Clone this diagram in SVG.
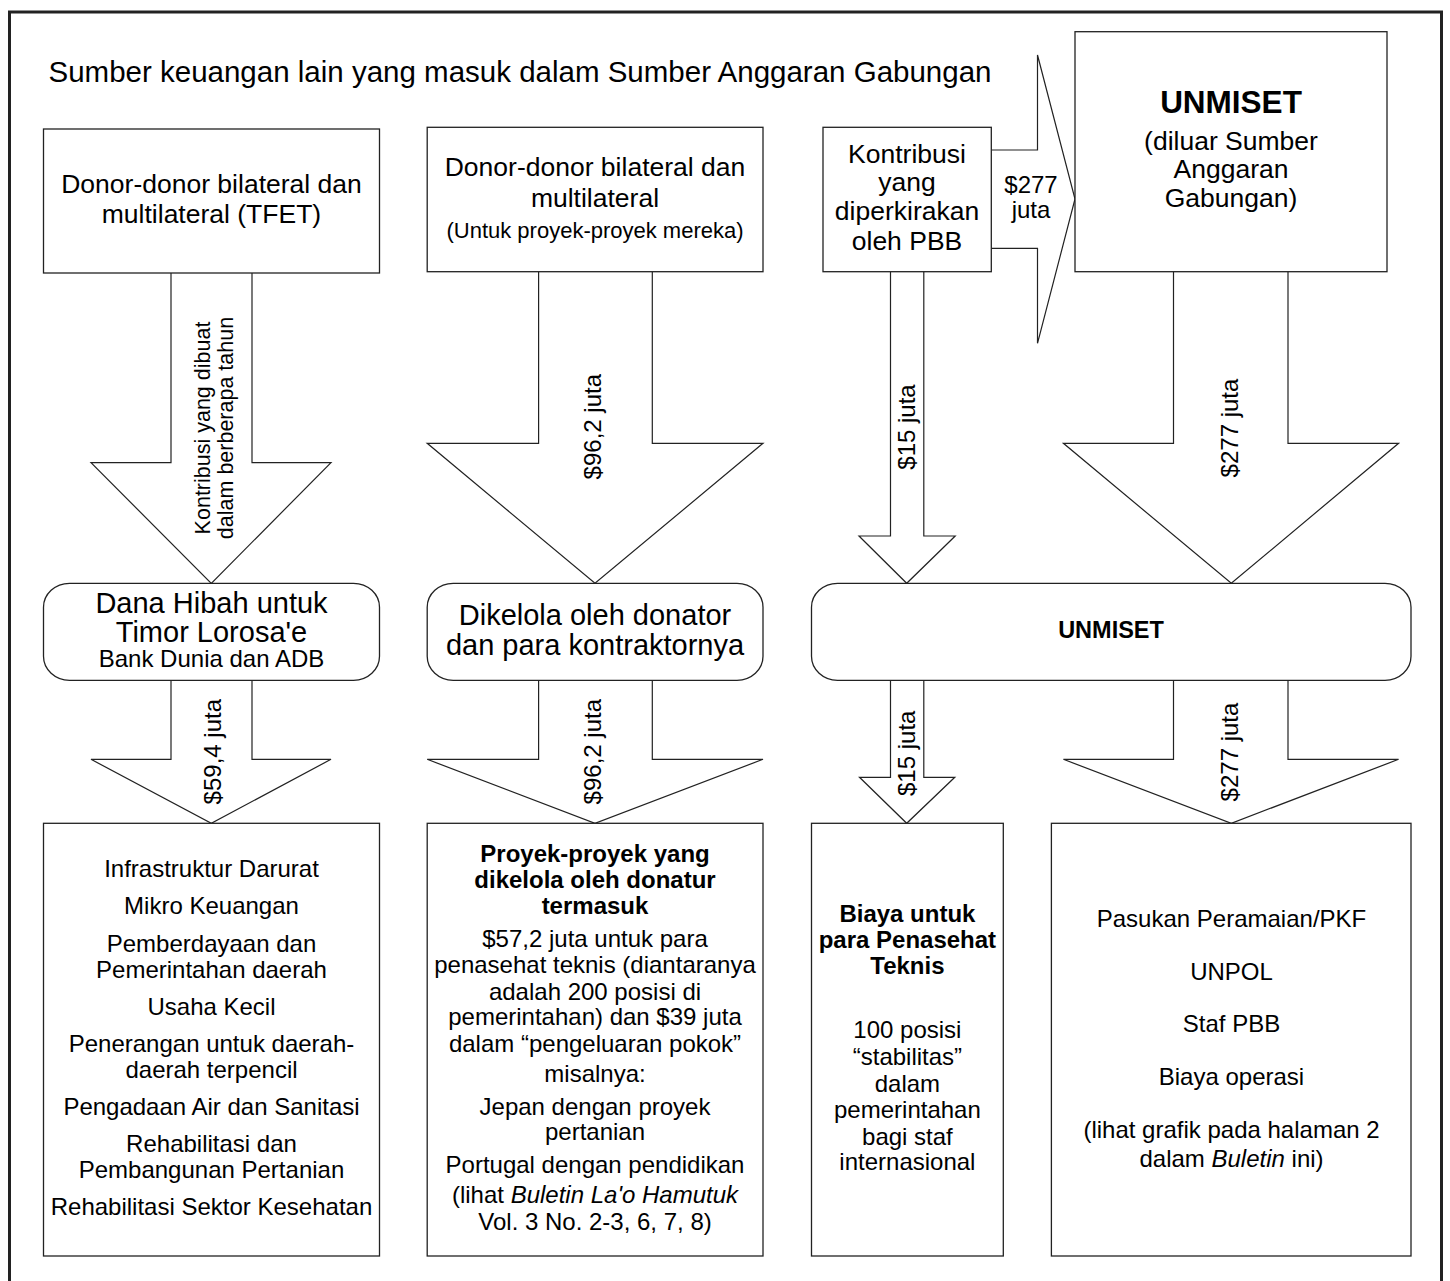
<svg xmlns="http://www.w3.org/2000/svg" width="1450" height="1281" viewBox="0 0 1450 1281">
<style>
text{font-family:"Liberation Sans",Arial,sans-serif;fill:#000}
.c{text-anchor:middle}
.box{fill:#fff;stroke:#222;stroke-width:1.3}
.arr{fill:#fff;stroke:#222;stroke-width:1.2;stroke-linejoin:miter}
.f26{font-size:26.5px}
.f29{font-size:29px}
.f24{font-size:24px}
.f22{font-size:22px}
.b{font-weight:bold}
.i{font-style:italic}
</style>
<rect x="0" y="0" width="1450" height="1281" fill="#fff"/>
<rect x="9.5" y="12" width="1432" height="1290" fill="none" stroke="#222" stroke-width="3"/>
<text x="48.5" y="82" style="font-size:29.5px">Sumber keuangan lain yang masuk dalam Sumber Anggaran Gabungan</text>

<g id="connectors">
  <path class="arr" d="M171,273 V462.7 H91 L211.3,583.3 L331,462.7 H252 V273"/>
  <path class="arr" d="M538.6,271.7 V443.3 H427.2 L595,583.3 L763,443.3 H652.3 V271.7"/>
  <path class="arr" d="M890.5,271.7 V536 H859 L906.7,583.3 L955.2,536 H923.8 V271.7"/>
  <path class="arr" d="M1173.5,271.7 V443.3 H1063.4 L1231.3,583.3 L1398.6,443.3 H1288 V271.7"/>
  <path class="arr" d="M991.3,150 H1037.5 V55 L1075,199 L1037.5,343.3 V248.3 H991.3"/>
  <path class="arr" d="M171,680 V759.3 H91 L211.3,823.3 L331,759.3 H252 V680"/>
  <path class="arr" d="M538.6,680 V759.3 H427.2 L595,823.3 L763,759.3 H652.3 V680"/>
  <path class="arr" d="M890.5,680 V777.3 H859.5 L906.7,823.3 L954.8,777.3 H923.8 V680"/>
  <path class="arr" d="M1173.5,680 V759.3 H1063.4 L1231.3,823.3 L1398.6,759.3 H1288 V680"/>
  <g class="c">
    <text transform="translate(209.5,428) rotate(-90)" style="font-size:21.5px">Kontribusi yang dibuat</text>
    <text transform="translate(232.5,428) rotate(-90)" style="font-size:21.5px">dalam berberapa tahun</text>
    <text class="f24" transform="translate(601,426.7) rotate(-90)">$96,2 juta</text>
    <text class="f24" transform="translate(914.6,427) rotate(-90)">$15 juta</text>
    <text class="f24" transform="translate(1238,428) rotate(-90)">$277 juta</text>
    <text class="f24" transform="translate(221,751.7) rotate(-90)">$59,4 juta</text>
    <text class="f24" transform="translate(601,751.7) rotate(-90)">$96,2 juta</text>
    <text class="f24" transform="translate(914.6,753.3) rotate(-90)">$15 juta</text>
    <text class="f24" transform="translate(1238,752) rotate(-90)">$277 juta</text>
    <text class="f24" x="1031" y="193.3">$277</text>
    <text class="f24" x="1031" y="218">juta</text>
  </g>
</g>

<g id="donor-tfet">
  <rect class="box" x="43.5" y="129" width="336" height="144"/>
  <text class="c f26" x="211.5" y="193">Donor-donor bilateral dan</text>
  <text class="c f26" x="211.5" y="223">multilateral (TFET)</text>
</g>
<g id="donor-proyek">
  <rect class="box" x="427.2" y="127.3" width="335.8" height="144.4"/>
  <text class="c f26" x="595" y="175.7">Donor-donor bilateral dan</text>
  <text class="c f26" x="595" y="206.7">multilateral</text>
  <text class="c f22" x="595" y="238">(Untuk proyek-proyek mereka)</text>
</g>
<g id="kontribusi-pbb">
  <rect class="box" x="823" y="127.3" width="168.3" height="144.4"/>
  <text class="c f26" x="907" y="163">Kontribusi</text>
  <text class="c f26" x="907" y="191">yang</text>
  <text class="c f26" x="907" y="220">diperkirakan</text>
  <text class="c f26" x="907" y="250">oleh PBB</text>
</g>
<g id="unmiset-top">
  <rect class="box" x="1075" y="31.7" width="312" height="240"/>
  <text class="c b" x="1231" y="113.3" style="font-size:31.5px">UNMISET</text>
  <text class="c f26" x="1231" y="150">(diluar Sumber</text>
  <text class="c f26" x="1231" y="178.3">Anggaran</text>
  <text class="c f26" x="1231" y="206.7">Gabungan)</text>
</g>

<g id="dana-hibah">
  <rect class="box" x="43.5" y="583.3" width="336" height="97" rx="26" ry="24"/>
  <text class="c f29" x="211.5" y="612.7">Dana Hibah untuk</text>
  <text class="c f29" x="211.5" y="641.7">Timor Lorosa'e</text>
  <text class="c f24" x="211.5" y="666.7">Bank Dunia dan ADB</text>
</g>
<g id="dikelola">
  <rect class="box" x="427.2" y="583.3" width="335.8" height="97" rx="26" ry="24"/>
  <text class="c f29" x="595" y="625">Dikelola oleh donator</text>
  <text class="c f29" x="595" y="655">dan para kontraktornya</text>
</g>
<g id="unmiset-mid">
  <rect class="box" x="811.5" y="583.3" width="599.5" height="97" rx="26" ry="24"/>
  <text class="c b" x="1111" y="638.3" style="font-size:23.5px">UNMISET</text>
</g>

<g id="tfet-projects">
  <rect class="box" x="43.5" y="823.3" width="336" height="432.7"/>
  <g class="c f24">
    <text x="211.5" y="877.3">Infrastruktur Darurat</text>
    <text x="211.5" y="914.3">Mikro Keuangan</text>
    <text x="211.5" y="951.7">Pemberdayaan dan</text>
    <text x="211.5" y="978.3">Pemerintahan daerah</text>
    <text x="211.5" y="1015">Usaha Kecil</text>
    <text x="211.5" y="1051.7">Penerangan untuk daerah-</text>
    <text x="211.5" y="1078.3">daerah terpencil</text>
    <text x="211.5" y="1115">Pengadaan Air dan Sanitasi</text>
    <text x="211.5" y="1151.7">Rehabilitasi dan</text>
    <text x="211.5" y="1178.3">Pembangunan Pertanian</text>
    <text x="211.5" y="1215">Rehabilitasi Sektor Kesehatan</text>
  </g>
</g>
<g id="donor-projects">
  <rect class="box" x="427.2" y="823.3" width="335.8" height="432.7"/>
  <g class="c f24">
    <text class="b" x="595" y="861.7">Proyek-proyek yang</text>
    <text class="b" x="595" y="888.3">dikelola oleh donatur</text>
    <text class="b" x="595" y="914">termasuk</text>
    <text x="595" y="946.7">$57,2 juta untuk para</text>
    <text x="595" y="973.3">penasehat teknis (diantaranya</text>
    <text x="595" y="1000">adalah 200 posisi di</text>
    <text x="595" y="1025">pemerintahan) dan $39 juta</text>
    <text x="595" y="1051.7">dalam “pengeluaran pokok”</text>
    <text x="595" y="1081.7">misalnya:</text>
    <text x="595" y="1115">Jepan dengan proyek</text>
    <text x="595" y="1140">pertanian</text>
    <text x="595" y="1173.3">Portugal dengan pendidikan</text>
    <text x="595" y="1203.3">(lihat <tspan class="i">Buletin La'o Hamutuk</tspan></text>
    <text x="595" y="1230">Vol. 3 No. 2-3, 6, 7, 8)</text>
  </g>
</g>
<g id="penasehat">
  <rect class="box" x="811.5" y="823.3" width="191.8" height="432.7"/>
  <g class="c f24">
    <text class="b" x="907.4" y="921.7">Biaya untuk</text>
    <text class="b" x="907.4" y="948.3">para Penasehat</text>
    <text class="b" x="907.4" y="974">Teknis</text>
    <text x="907.4" y="1038.3">100 posisi</text>
    <text x="907.4" y="1065">“stabilitas”</text>
    <text x="907.4" y="1091.7">dalam</text>
    <text x="907.4" y="1118.3">pemerintahan</text>
    <text x="907.4" y="1145">bagi staf</text>
    <text x="907.4" y="1170">internasional</text>
  </g>
</g>
<g id="unmiset-costs">
  <rect class="box" x="1051.4" y="823.3" width="359.6" height="432.7"/>
  <g class="c f24">
    <text x="1231.5" y="926.7">Pasukan Peramaian/PKF</text>
    <text x="1231.5" y="980">UNPOL</text>
    <text x="1231.5" y="1031.7">Staf PBB</text>
    <text x="1231.5" y="1085">Biaya operasi</text>
    <text x="1231.5" y="1138.3">(lihat grafik pada halaman 2</text>
    <text x="1231.5" y="1166.7">dalam <tspan class="i">Buletin</tspan> ini)</text>
  </g>
</g>
</svg>
